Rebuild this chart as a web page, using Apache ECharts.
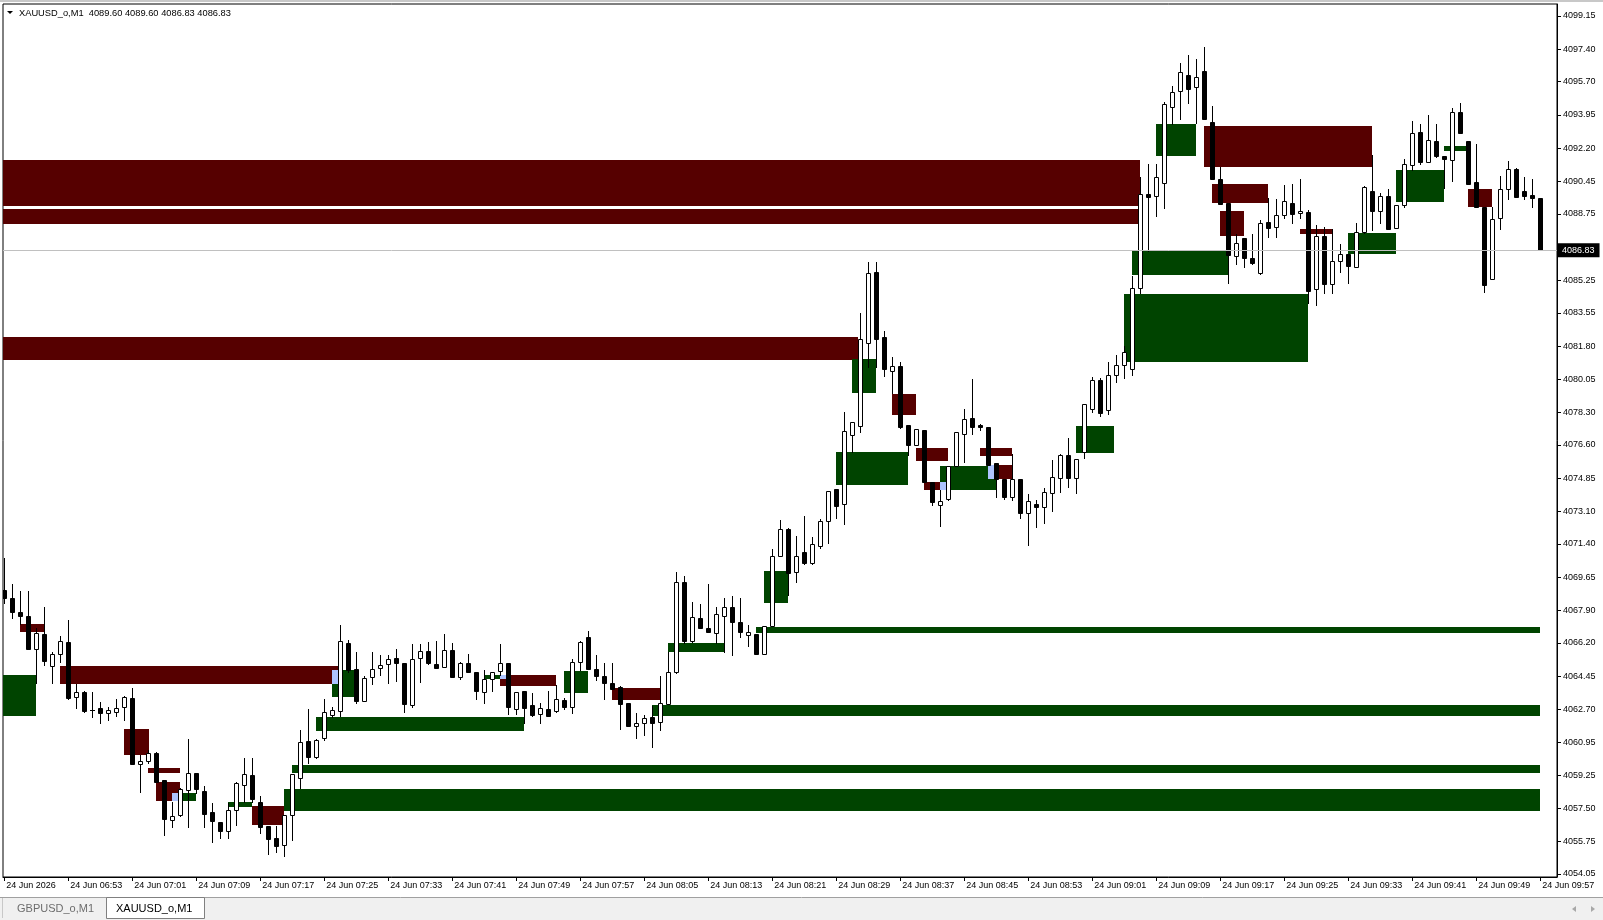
<!DOCTYPE html>
<html><head><meta charset="utf-8">
<script src="https://cdn.jsdelivr.net/npm/echarts@6/dist/echarts.min.js"></script>
<style>html,body{margin:0;padding:0;background:#fff;}#c{width:1603px;height:920px;}</style>
</head><body><div id="c"></div>
<script>
// ---- tick labels ----
const timeLabels = ["24 Jun 2026","24 Jun 06:53","24 Jun 07:01","24 Jun 07:09","24 Jun 07:17","24 Jun 07:25","24 Jun 07:33","24 Jun 07:41","24 Jun 07:49","24 Jun 07:57","24 Jun 08:05","24 Jun 08:13","24 Jun 08:21","24 Jun 08:29","24 Jun 08:37","24 Jun 08:45","24 Jun 08:53","24 Jun 09:01","24 Jun 09:09","24 Jun 09:17","24 Jun 09:25","24 Jun 09:33","24 Jun 09:41","24 Jun 09:49","24 Jun 09:57"];
const timeTickBars = [0,8,16,24,32,40,48,56,64,72,80,88,96,104,112,120,128,136,144,152,160,168,176,184,192];
const priceLabels = [4099.15,4097.40,4095.70,4093.95,4092.20,4090.45,4088.75,4085.25,4083.55,4081.80,4080.05,4078.30,4076.60,4074.85,4073.10,4071.40,4069.65,4067.90,4066.20,4064.45,4062.70,4060.95,4059.25,4057.50,4055.75,4054.05];
const lastPrice = 4086.83;

// ---- M1 bars (06:45 .. 09:57) ----
const opens = [4068.98,4068.56,4067.82,4067.61,4065.87,4066.66,4064.98,4065.61,4066.24,4063.35,
4063.61,4062.69,4062.77,4062.51,4062.56,4062.82,4063.30,4059.83,4059.99,4060.41,
4058.99,4056.89,4057.15,4058.46,4059.36,4058.41,4057.31,4056.78,4056.31,4057.41,
4058.73,4059.25,4057.83,4056.57,4055.94,4055.57,4057.15,4059.09,4061.04,4060.20,
4061.20,4062.40,4062.61,4066.19,4064.82,4063.14,4064.40,4064.87,4065.08,4065.40,
4065.14,4062.93,4065.40,4065.77,4065.08,4064.93,4065.82,4064.40,4065.14,4064.67,
4063.61,4064.30,4064.72,4065.14,4062.72,4063.66,4062.93,4062.46,4062.72,4062.61,
4063.19,4062.82,4065.19,4066.51,4064.82,4064.45,4064.08,4063.88,4063.04,4061.83,
4061.98,4062.30,4062.04,4062.98,4064.67,4069.40,4066.29,4067.50,4066.98,4066.71,
4067.61,4068.08,4067.29,4066.61,4066.66,4065.61,4067.08,4070.76,4072.18,4069.92,
4070.97,4070.39,4071.29,4072.60,4074.29,4073.50,4077.12,4077.60,4081.96,4085.69,
4082.28,4080.49,4080.75,4077.65,4076.60,4077.39,4074.65,4073.44,4073.76,4075.50,
4077.18,4078.02,4077.65,4077.55,4075.65,4074.81,4073.87,4074.81,4073.02,4073.50,
4073.34,4074.08,4074.86,4076.07,4074.86,4076.23,4078.49,4080.02,4078.44,4080.28,
4080.80,4080.60,4084.85,4089.79,4089.69,4090.37,4094.37,4095.21,4096.05,4095.42,
4096.26,4093.58,4090.58,4089.32,4086.53,4087.48,4086.43,4085.64,4088.32,4088.06,
4088.69,4089.32,4088.79,4088.85,4084.80,4087.58,4085.06,4086.27,4086.64,4085.96,
4087.80,4089.95,4088.90,4089.69,4088.00,4089.21,4091.32,4093.05,4091.47,4092.58,
4091.79,4091.58,4094.10,4092.58,4090.42,4089.11,4085.32,4088.53,4090.06,4091.11,
4089.95,4089.74,4089.60];
const highs = [4070.66,4069.29,4068.92,4068.92,4066.98,4068.08,4065.72,4066.56,4067.40,4064.03,
4063.66,4063.61,4063.09,4062.82,4063.24,4063.40,4063.82,4060.30,4060.57,4060.46,
4058.99,4057.83,4058.57,4061.14,4059.36,4058.67,4057.78,4056.78,4057.78,4058.88,
4060.15,4060.15,4058.15,4056.57,4056.57,4057.15,4059.31,4061.62,4062.72,4061.14,
4063.24,4062.82,4067.14,4066.35,4065.72,4064.45,4065.72,4065.56,4065.56,4065.87,
4065.14,4066.14,4066.14,4066.24,4066.29,4066.66,4066.19,4065.19,4065.61,4064.67,
4064.77,4064.51,4066.14,4065.14,4063.61,4063.66,4063.56,4063.04,4063.66,4063.98,
4063.30,4065.35,4066.29,4066.82,4065.56,4065.14,4065.14,4063.93,4063.04,4062.51,
4062.40,4062.88,4064.45,4065.72,4069.92,4069.71,4068.35,4068.24,4069.29,4068.08,
4068.56,4068.66,4068.56,4067.14,4066.66,4067.08,4071.13,4072.66,4072.24,4071.81,
4072.87,4071.76,4072.71,4074.18,4074.29,4078.33,4077.81,4083.54,4086.22,4086.22,
4082.59,4081.22,4080.96,4077.65,4077.44,4077.39,4074.65,4074.23,4075.50,4077.28,
4078.49,4080.07,4077.70,4077.55,4075.65,4074.81,4076.13,4074.81,4074.02,4073.71,
4074.34,4075.81,4076.13,4076.96,4075.86,4078.75,4080.17,4080.12,4080.96,4081.33,
4081.80,4085.50,4090.69,4091.37,4091.37,4094.63,4095.47,4096.68,4097.10,4096.89,
4097.52,4094.42,4091.21,4089.32,4087.69,4087.48,4087.69,4088.43,4089.58,4089.53,
4090.27,4090.32,4090.58,4088.95,4088.16,4088.06,4087.95,4087.16,4086.64,4088.27,
4090.21,4091.84,4089.85,4090.06,4089.21,4091.63,4093.63,4093.47,4093.94,4093.47,
4091.79,4094.31,4094.58,4092.58,4092.42,4089.11,4089.11,4090.74,4091.53,4091.16,
4090.69,4090.58,4089.60];
const lows = [4068.29,4067.50,4067.19,4065.87,4064.08,4065.03,4064.08,4065.19,4063.24,4062.77,
4062.56,4062.30,4061.98,4062.14,4062.35,4062.14,4059.83,4058.36,4059.88,4058.88,
4056.10,4056.52,4057.10,4056.52,4058.31,4056.52,4055.73,4055.94,4055.94,4056.62,
4057.83,4057.83,4056.20,4055.10,4055.20,4054.99,4055.84,4058.57,4059.88,4060.15,
4061.09,4062.30,4062.35,4064.67,4063.04,4063.14,4064.03,4064.51,4064.08,4064.19,
4062.56,4062.82,4064.14,4065.08,4064.87,4064.93,4064.40,4064.30,4064.67,4063.24,
4063.04,4063.66,4064.51,4062.46,4062.46,4061.98,4062.35,4061.98,4062.35,4062.56,
4062.72,4062.51,4064.77,4064.82,4064.25,4063.24,4063.77,4061.67,4061.83,4061.20,
4061.35,4060.72,4061.62,4062.98,4064.61,4066.19,4066.24,4066.98,4066.77,4066.19,
4065.72,4065.56,4066.51,4066.03,4065.61,4065.61,4067.08,4070.76,4068.71,4069.40,
4070.34,4070.34,4071.18,4071.45,4072.76,4072.45,4076.23,4077.28,4080.70,4080.70,
4080.23,4079.33,4077.49,4076.07,4076.60,4074.65,4073.44,4072.34,4073.71,4075.50,
4075.70,4077.18,4077.39,4075.55,4073.87,4073.76,4073.71,4072.76,4071.34,4072.29,
4072.50,4073.13,4074.13,4074.39,4074.08,4075.92,4078.33,4078.12,4078.23,4079.91,
4080.10,4080.30,4084.59,4086.80,4088.63,4089.06,4093.47,4093.73,4094.58,4093.52,
4093.73,4090.58,4089.27,4085.12,4086.11,4085.96,4086.11,4085.59,4087.53,4087.53,
4088.53,4088.27,4088.53,4084.06,4083.96,4084.59,4084.59,4085.69,4085.12,4085.96,
4087.74,4087.90,4088.27,4087.95,4088.00,4089.11,4091.05,4091.37,4091.47,4091.74,
4090.11,4090.48,4093.00,4090.32,4089.11,4084.64,4085.32,4087.95,4089.53,4089.63,
4089.53,4089.11,4086.83];
const closes = [4068.56,4067.82,4067.61,4065.87,4066.71,4065.24,4065.61,4066.29,4063.30,4063.61,
4062.61,4062.67,4062.51,4062.67,4062.77,4063.35,4059.83,4059.99,4060.41,4058.88,
4056.94,4057.10,4058.52,4059.36,4058.52,4057.20,4056.83,4056.31,4057.41,4058.83,
4059.31,4057.99,4056.52,4055.89,4055.52,4057.15,4059.31,4060.99,4060.20,4061.09,
4062.56,4062.67,4066.29,4064.77,4063.14,4064.35,4064.82,4065.03,4065.35,4065.14,
4062.98,4065.35,4065.77,4065.14,4064.87,4065.82,4064.40,4065.14,4064.67,4063.66,
4064.30,4064.67,4065.14,4062.82,4063.61,4062.77,4062.40,4062.77,4062.35,4063.24,
4062.82,4065.19,4066.24,4064.82,4064.45,4064.08,4063.77,4062.98,4061.83,4061.98,
4062.25,4061.98,4063.04,4064.67,4069.40,4066.29,4067.56,4066.98,4066.77,4067.71,
4068.08,4067.29,4066.77,4066.77,4065.61,4067.08,4070.76,4072.18,4069.87,4070.76,
4070.39,4071.39,4072.60,4074.18,4073.39,4077.33,4077.81,4082.17,4085.64,4082.17,
4080.59,4080.75,4077.55,4076.60,4077.44,4074.65,4073.60,4073.66,4075.50,4077.28,
4077.97,4077.55,4077.55,4075.55,4074.81,4073.87,4074.81,4073.02,4073.66,4073.34,
4074.13,4074.92,4076.07,4074.86,4075.86,4078.75,4080.02,4078.28,4080.28,4080.80,
4081.50,4084.85,4089.79,4089.63,4090.69,4094.52,4095.15,4096.21,4095.31,4095.94,
4093.73,4090.58,4089.27,4086.59,4087.22,4086.43,4086.17,4088.27,4088.00,4088.69,
4089.42,4088.74,4088.90,4084.69,4087.58,4085.06,4086.27,4086.64,4086.01,4087.80,
4090.16,4088.90,4089.69,4087.95,4089.21,4091.37,4093.00,4091.47,4092.63,4091.79,
4091.63,4094.10,4093.00,4090.32,4089.11,4085.01,4088.48,4090.06,4091.11,4089.63,
4089.69,4089.58,4086.83];

// ---- zones: [startBar, endBar, topPrice, bottomPrice] ----
const redZones = [
 [2,5,4067.19,4066.77],[7,41.7,4064.98,4064.04],[15,18.1,4061.67,4060.30],[18,22,4059.62,4059.36],
 [19,22,4058.88,4057.89],[31,35,4057.62,4056.62],[62,69,4064.51,4063.93],[76,82,4063.83,4063.20],
 [-1,106.7,4082.28,4081.07],[111,114,4079.28,4078.18],[114,118,4076.44,4075.76],[115,117.7,4074.65,4074.23],
 [122,126,4076.44,4076.02],[123,126,4075.55,4074.81],[-1,142,4091.58,4089.16],[-1,142,4089.00,4088.22],
 [150,171,4093.37,4091.21],[151,158,4090.32,4089.32],[152,155,4088.90,4087.59],[162,166,4087.95,4087.69],
 [183,186,4090.06,4089.11]
];
const greenZones = [
 [-1,4,4064.51,4062.35],[41,43.7,4064.77,4063.35],[21.7,24,4058.31,4057.89],[28,31,4057.83,4057.57],
 [35,192,4058.52,4057.36],[36,192,4059.78,4059.36],[39,65,4062.30,4061.56],[60,62,4064.51,4064.30],
 [70,73,4064.72,4063.56],[81,192,4062.93,4062.35],[83,90,4066.19,4065.72],[94,192,4067.03,4066.71],
 [95,98,4069.98,4068.29],[104,113,4076.23,4074.50],[106,109,4081.12,4079.33],[117,124,4075.50,4074.23],
 [134,138.7,4077.60,4076.18],[144,149,4093.47,4091.79],[141,153,4086.80,4085.54],[140,163,4084.54,4080.96],
 [168,174,4087.74,4086.64],[174,180,4091.06,4089.37],[180,182.7,4092.32,4092.05]
];
const mixZones = [
 [41,41.7,4064.77,4064.04],[21,21.7,4058.31,4057.89],[62,62.7,4064.51,4064.30],
 [117,117.7,4074.65,4074.23],[123,123.7,4075.55,4074.81]
];

const FONT = 'Liberation Sans';
const chart = echarts.init(document.getElementById('c'), null, {renderer:'canvas'});
const candleData = opens.map((o,i)=>[i,o,closes[i],lows[i],highs[i]]);

function zoneSeries(zones, color, z, extra){
  return Object.assign({
    type:'custom', z:z, clip:true, silent:true, animation:false, data:zones,
    encode:{x:[0,1], y:[2,3]},
    renderItem:function(params, api){
      const p0 = api.coord([api.value(0), api.value(2)]);
      const p1 = api.coord([api.value(1), api.value(3)]);
      const x0=Math.round(p0[0]), x1=Math.round(p1[0]), y0=Math.round(p0[1]), y1=Math.round(p1[1]);
      return {type:'rect', shape:{x:x0,y:y0,width:Math.max(1,x1-x0),height:Math.max(1,y1-y0)}, style:{fill:color}};
    }
  }, extra||{});
}

const option = {
  animation:false,
  backgroundColor:'#fff',
  grid:{left:3, right:46, top:4, bottom:43, show:true, borderColor:'#000', borderWidth:1, backgroundColor:'#fff'},
  xAxis:{type:'value', min:-0.1625, max:194.0875,
    axisLine:{show:true, onZero:false, lineStyle:{color:'#000', width:1}},
    axisTick:{show:true, inside:false, length:4, lineStyle:{color:'#000'}, customValues:timeTickBars},
    axisLabel:{customValues:timeTickBars, formatter:function(v){return timeLabels[Math.round(v/8)];},
      align:'left', margin:4, color:'#000', fontFamily:FONT, fontSize:9, padding:[0,0,0,2]},
    splitLine:{show:false}},
  yAxis:{type:'value', position:'right', min:4053.89, max:4099.78,
    axisLine:{show:true, onZero:false, lineStyle:{color:'#000', width:1}},
    axisTick:{show:true, inside:false, length:4, lineStyle:{color:'#000'}, customValues:priceLabels},
    axisLabel:{customValues:priceLabels, formatter:function(v){return v.toFixed(2);},
      margin:6, color:'#000', fontFamily:FONT, fontSize:9},
    splitLine:{show:false}},
  series:[
    zoneSeries(redZones,'#560000',1),
    zoneSeries(greenZones,'#004400',1),
    zoneSeries(mixZones,'#adc4ff',2,{
      markLine:{silent:true, symbol:['none','none'], animation:false,
        lineStyle:{color:'#c0c0c0', type:'solid', width:1},
        label:{show:true, position:'end', distance:0, formatter:function(){return lastPrice.toFixed(2);},
          color:'#fff', backgroundColor:'#000', padding:[3,5,2,5], fontFamily:FONT, fontSize:9},
        data:[{yAxis:lastPrice}]}
    }),
    {type:'custom', z:3, clip:true, silent:true, animation:false, data:candleData,
     encode:{x:0, y:[1,2,3,4]},
     renderItem:function(params, api){
       const i=api.value(0), o=api.value(1), c=api.value(2), l=api.value(3), h=api.value(4);
       const pO=api.coord([i,o]), pC=api.coord([i,c]), pH=api.coord([i,h]), pL=api.coord([i,l]);
       const xc=Math.round(pO[0]);
       const yO=Math.round(pO[1]), yC=Math.round(pC[1]), yH=Math.round(pH[1]), yL=Math.round(pL[1]);
       const top=Math.min(yO,yC), bot=Math.max(yO,yC);
       const ch=[{type:'line', shape:{x1:xc+0.5,y1:yH,x2:xc+0.5,y2:yL+1}, style:{stroke:'#000',lineWidth:1}}];
       if (bot-top<1) {
         ch.push({type:'line', shape:{x1:xc-2,y1:top+0.5,x2:xc+3,y2:top+0.5}, style:{stroke:'#000',lineWidth:1}});
       } else {
         ch.push({type:'rect', shape:{x:xc-1.5,y:top+0.5,width:4,height:bot-top}, style:{fill:(c>o?'#fff':'#000'), stroke:'#000', lineWidth:1}});
       }
       return {type:'group', children:ch};
     }}
  ],
  graphic:[
    {type:'rect', left:0, top:0, shape:{width:1603,height:2}, style:{fill:'#c8c8c8'}, silent:true},
    {type:'polygon', shape:{points:[[7,11],[13,11],[10,14]]}, style:{fill:'#000'}, silent:true},
    {type:'text', x:19, y:13, style:{text:'XAUUSD_o,M1  4089.60 4089.60 4086.83 4086.83', fill:'#000', font:'9.3px "Liberation Sans"', textVerticalAlign:'middle'}, silent:true},
    {type:'rect', x:0, y:898, shape:{width:1603,height:22}, style:{fill:'#f0f0f0'}, silent:true},
    {type:'line', shape:{x1:0,y1:897.5,x2:1603,y2:897.5}, style:{stroke:'#a0a0a0',lineWidth:1}, silent:true},
    {type:'line', shape:{x1:2.5,y1:898,x2:2.5,y2:918}, style:{stroke:'#c8c8c8',lineWidth:1}, silent:true},
    {type:'text', x:17, y:909, style:{text:'GBPUSD_o,M1', fill:'#6d6d6d', font:'11px "Liberation Sans"', textVerticalAlign:'middle'}, silent:true},
    {type:'rect', x:106.5, y:897.5, shape:{width:98,height:21}, style:{fill:'#fff', stroke:'#808080', lineWidth:1}, silent:true},
    {type:'text', x:116, y:909, style:{text:'XAUUSD_o,M1', fill:'#000', font:'11px "Liberation Sans"', textVerticalAlign:'middle'}, silent:true},
    {type:'polygon', shape:{points:[[1576,906],[1576,912],[1572,909]]}, style:{fill:'#a8a8a8'}, silent:true},
    {type:'polygon', shape:{points:[[1591,906],[1591,912],[1595,909]]}, style:{fill:'#a8a8a8'}, silent:true}
  ]
};
chart.setOption(option);
</script>
</body></html>
